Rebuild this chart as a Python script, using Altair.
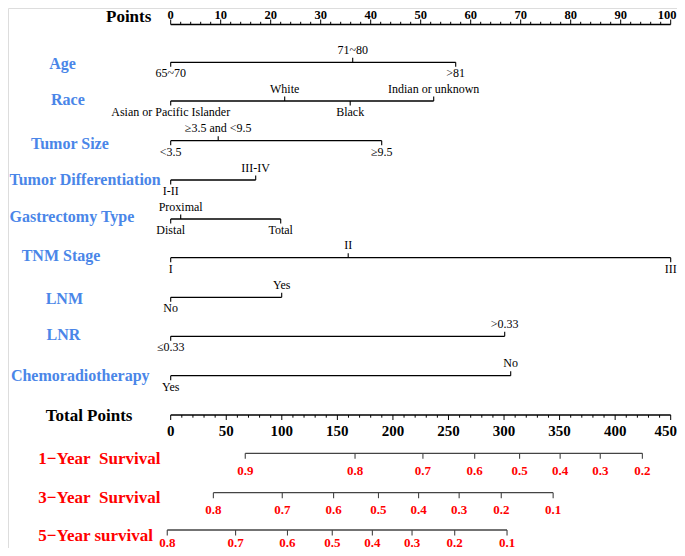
import altair as alt
import pandas as pd

# ---------------- data ----------------
points_labels = [0, 10, 20, 30, 40, 50, 60, 70, 80, 90, 100]
points_minor = list(range(0, 101, 2))
total_labels = [0, 50, 100, 150, 200, 250, 300, 350, 400, 450]
total_minor = list(range(0, 451, 10))

var_names = ["Age", "Race", "Tumor Size", "Tumor Differentiation", "Gastrectomy Type",
             "TNM Stage", "LNM", "LNR", "Chemoradiotherapy"]
age_levels = ["65~70", "71~80", ">81"]
age_points = [0, 36.4, 57.0]
race_levels = ["Asian or Pacific Islander", "White", "Black", "Indian or unknown"]
race_points = [0, 22.8, 35.9, 52.6]
size_levels = ["<3.5", "\u22653.5 and <9.5", "\u22659.5"]
size_points = [0, 9.5, 42.2]
diff_levels = ["I-II", "III-IV"]
diff_points = [0, 17.0]
gast_levels = ["Distal", "Proximal", "Total"]
gast_points = [0, 2.0, 22.0]
tnm_levels = ["I", "II", "III"]
tnm_points = [0, 35.5, 100]
lnm_levels = ["No", "Yes"]
lnm_points = [0, 22.2]
lnr_levels = ["\u22640.33", ">0.33"]
lnr_points = [0, 66.8]
chemo_levels = ["Yes", "No"]
chemo_points = [0, 68.0]

surv_names = ["1\u2212Year\u00a0\u00a0Survival", "3\u2212Year\u00a0\u00a0Survival", "5\u2212Year survival"]
surv1_probs = ["0.9", "0.8", "0.7", "0.6", "0.5", "0.4", "0.3", "0.2"]
surv1_total = [67.1, 165.9, 227.0, 273.6, 314.0, 350.5, 386.6, 424.5]
surv3_probs = ["0.8", "0.7", "0.6", "0.5", "0.4", "0.3", "0.2", "0.1"]
surv3_total = [38.4, 100.4, 146.6, 187.0, 223.1, 259.6, 297.5, 344.2]
surv5_probs = ["0.8", "0.7", "0.6", "0.5", "0.4", "0.3", "0.2", "0.1"]
surv5_total = [-3.1, 58.4, 105.1, 145.4, 181.5, 217.2, 255.6, 302.7]

# ---------------- layout (positions in page pixels) ----------------
FONT = "Liberation Serif"
BLUE = "#4a86e8"
RED = "#ff0000"
var_line_y = [62.3, 101, 140.7, 180, 219, 257.7, 297.3, 336.3, 375.7]
var_title_y = [64.3, 100, 143.7, 180, 216.7, 256, 299, 335, 376]
var_title_left = [49.3, 51, 31, 9.5, 9.5, 21.7, 45.7, 46.6, 10.9]
surv_line_y = [453.3, 492.7, 530.0]
surv_label_off = [18, 17.5, 12.5]
surv_title_y = [459, 498.3, 535.5]
surv_title_left = [38.3, 38.3, 38.3]
points_axis_y = 24.5
points_label_top = 8.5
total_axis_y = 415.0
total_label_y = 431.0

YSCALE = alt.Scale(domain=[8, 548], reverse=True, nice=False, zero=False)
X = alt.X("x:Q", scale=alt.Scale(domain=[-32.54, 101.26], nice=False, zero=False), axis=None)
Y = alt.Y("y:Q", scale=YSCALE, axis=None)
YL = alt.Y("ly:Q", scale=YSCALE, axis=None)
X2 = alt.X2("x2:Q")
Y2 = alt.Y2("y2:Q")

variables = [
    (age_levels, age_points), (race_levels, race_points), (size_levels, size_points),
    (diff_levels, diff_points), (gast_levels, gast_points), (tnm_levels, tnm_points),
    (lnm_levels, lnm_points), (lnr_levels, lnr_points), (chemo_levels, chemo_points),
]

level_rows, var_lines = [], []
for i, (levels, pts) in enumerate(variables):
    ly = var_line_y[i]
    order = sorted(range(len(pts)), key=lambda k: pts[k])
    for rank, k in enumerate(order):
        below = rank % 2 == 0
        d = 1 if below else -1
        level_rows.append({"x": pts[k], "y": ly, "y2": ly + d * 4.5,
                           "ly": ly + (11 if below else -12.5), "label": levels[k]})
    var_lines.append({"x": min(pts), "x2": max(pts), "y": ly})
levels_df = pd.DataFrame(level_rows)
var_lines_df = pd.DataFrame(var_lines)

titles_df = pd.DataFrame({"label": var_names, "y": var_title_y, "lx": var_title_left})

# points axis
pts_ticks = pd.DataFrame({"x": points_minor,
                          "y": points_axis_y,
                          "y2": [points_axis_y - (5 if v % 10 == 0 else 2.7) for v in points_minor]})
pts_labels_df = pd.DataFrame({"p": points_labels, "y": points_label_top,
                              "dxp": [-3.5 if v == max(points_labels) else 0 for v in points_labels],
                              "label": [str(v) for v in points_labels]})
pts_line = pd.DataFrame({"x": [min(points_labels)], "x2": [max(points_labels)], "y": [points_axis_y]})

# total points axis (total points -> points scale)
tot_ticks = pd.DataFrame({"t": total_minor, "y": total_axis_y,
                          "y2": [total_axis_y + (5 if v % 50 == 0 else 2.7) for v in total_minor]})
tot_labels_df = pd.DataFrame({"t": total_labels, "y": total_label_y,
                              "dxp": [-5 if v == max(total_labels) else 0 for v in total_labels],
                              "label": [str(v) for v in total_labels]})
tot_line = pd.DataFrame({"t": [min(total_labels)], "t2": [max(total_labels)], "y": [total_axis_y]})

surv_rows, surv_lines = [], []
for i, (probs, tots) in enumerate([(surv1_probs, surv1_total), (surv3_probs, surv3_total),
                                   (surv5_probs, surv5_total)]):
    ly = surv_line_y[i]
    for p, t in zip(probs, tots):
        surv_rows.append({"t": t, "y": ly, "y2": ly + 5.5, "ly": ly + surv_label_off[i], "label": p})
    surv_lines.append({"t": min(tots), "t2": max(tots), "y": ly})
surv_df = pd.DataFrame(surv_rows)
surv_lines_df = pd.DataFrame(surv_lines)
surv_titles_df = pd.DataFrame({"label": surv_names, "y": surv_title_y, "lx": surv_title_left})

points_title_df = pd.DataFrame({"label": ["Points"], "y": [8.5], "lx": [106]})
total_title_df = pd.DataFrame({"label": ["Total Points"], "y": [415.7], "lx": [45.7]})

px_to_pts = "(datum.lx - 170.7) / 5"

layers = []
# Points axis
layers.append(alt.Chart(pts_line).mark_rule(color="black", strokeWidth=1.3).encode(x=X, x2=X2, y=Y))
layers.append(alt.Chart(pts_ticks).mark_rule(color="black", strokeWidth=1).encode(x=X, y=Y, y2=Y2))
layers.append(alt.Chart(pts_labels_df).transform_calculate(x="datum.p + datum.dxp / 5")
              .mark_text(font=FONT, fontSize=12.5, fontWeight="bold",
                         baseline="top", align="center", color="black")
              .encode(x=X, y=Y, text="label:N"))
layers.append(alt.Chart(points_title_df).transform_calculate(x=px_to_pts)
              .mark_text(font=FONT, fontSize=17, fontWeight="bold", baseline="top", align="left", color="black")
              .encode(x=X, y=Y, text="label:N"))
layers.append(alt.Chart(total_title_df).transform_calculate(x=px_to_pts)
              .mark_text(font=FONT, fontSize=17, fontWeight="bold", baseline="middle", align="left", color="black")
              .encode(x=X, y=Y, text="label:N"))
# variable rows
layers.append(alt.Chart(var_lines_df).mark_rule(color="black", strokeWidth=1.3).encode(x=X, x2=X2, y=Y))
layers.append(alt.Chart(levels_df).mark_rule(color="black", strokeWidth=1.1).encode(x=X, y=Y, y2=Y2))
layers.append(alt.Chart(levels_df).mark_text(font=FONT, fontSize=12, baseline="middle", align="center", color="black")
              .encode(x=X, y=YL, text="label:N"))
layers.append(alt.Chart(titles_df).transform_calculate(x=px_to_pts)
              .mark_text(font=FONT, fontSize=16, fontWeight="bold", baseline="middle", align="left", color=BLUE)
              .encode(x=X, y=Y, text="label:N"))
# total points axis
layers.append(alt.Chart(tot_line).transform_calculate(x="datum.t / 4.5", x2="datum.t2 / 4.5")
              .mark_rule(color="black", strokeWidth=1.3).encode(x=X, x2=X2, y=Y))
layers.append(alt.Chart(tot_ticks).transform_calculate(x="datum.t / 4.5")
              .mark_rule(color="black", strokeWidth=1).encode(x=X, y=Y, y2=Y2))
layers.append(alt.Chart(tot_labels_df).transform_calculate(x="datum.t / 4.5 + datum.dxp / 5")
              .mark_text(font=FONT, fontSize=15, fontWeight="bold", baseline="middle", align="center", color="black")
              .encode(x=X, y=Y, text="label:N"))
# survival rows
layers.append(alt.Chart(surv_lines_df).transform_calculate(x="datum.t / 4.5", x2="datum.t2 / 4.5")
              .mark_rule(color="#444444", strokeWidth=1.3).encode(x=X, x2=X2, y=Y))
layers.append(alt.Chart(surv_df).transform_calculate(x="datum.t / 4.5")
              .mark_rule(color="#444444", strokeWidth=1.1).encode(x=X, y=Y, y2=Y2))
layers.append(alt.Chart(surv_df).transform_calculate(x="datum.t / 4.5")
              .mark_text(font=FONT, fontSize=13, fontWeight="bold", baseline="middle", align="center", color=RED)
              .encode(x=X, y=YL, text="label:N"))
layers.append(alt.Chart(surv_titles_df).transform_calculate(x=px_to_pts)
              .mark_text(font=FONT, fontSize=17, fontWeight="bold", baseline="middle", align="left", color=RED)
              .encode(x=X, y=Y, text="label:N"))

chart = alt.layer(*layers).properties(
    width=669, height=540, padding=0,
    autosize=alt.AutoSizeParams(type="none"),
).configure_view(stroke=None).configure(background="white")

chart.save("out.html", embed_options={"renderer": "svg", "actions": False})
